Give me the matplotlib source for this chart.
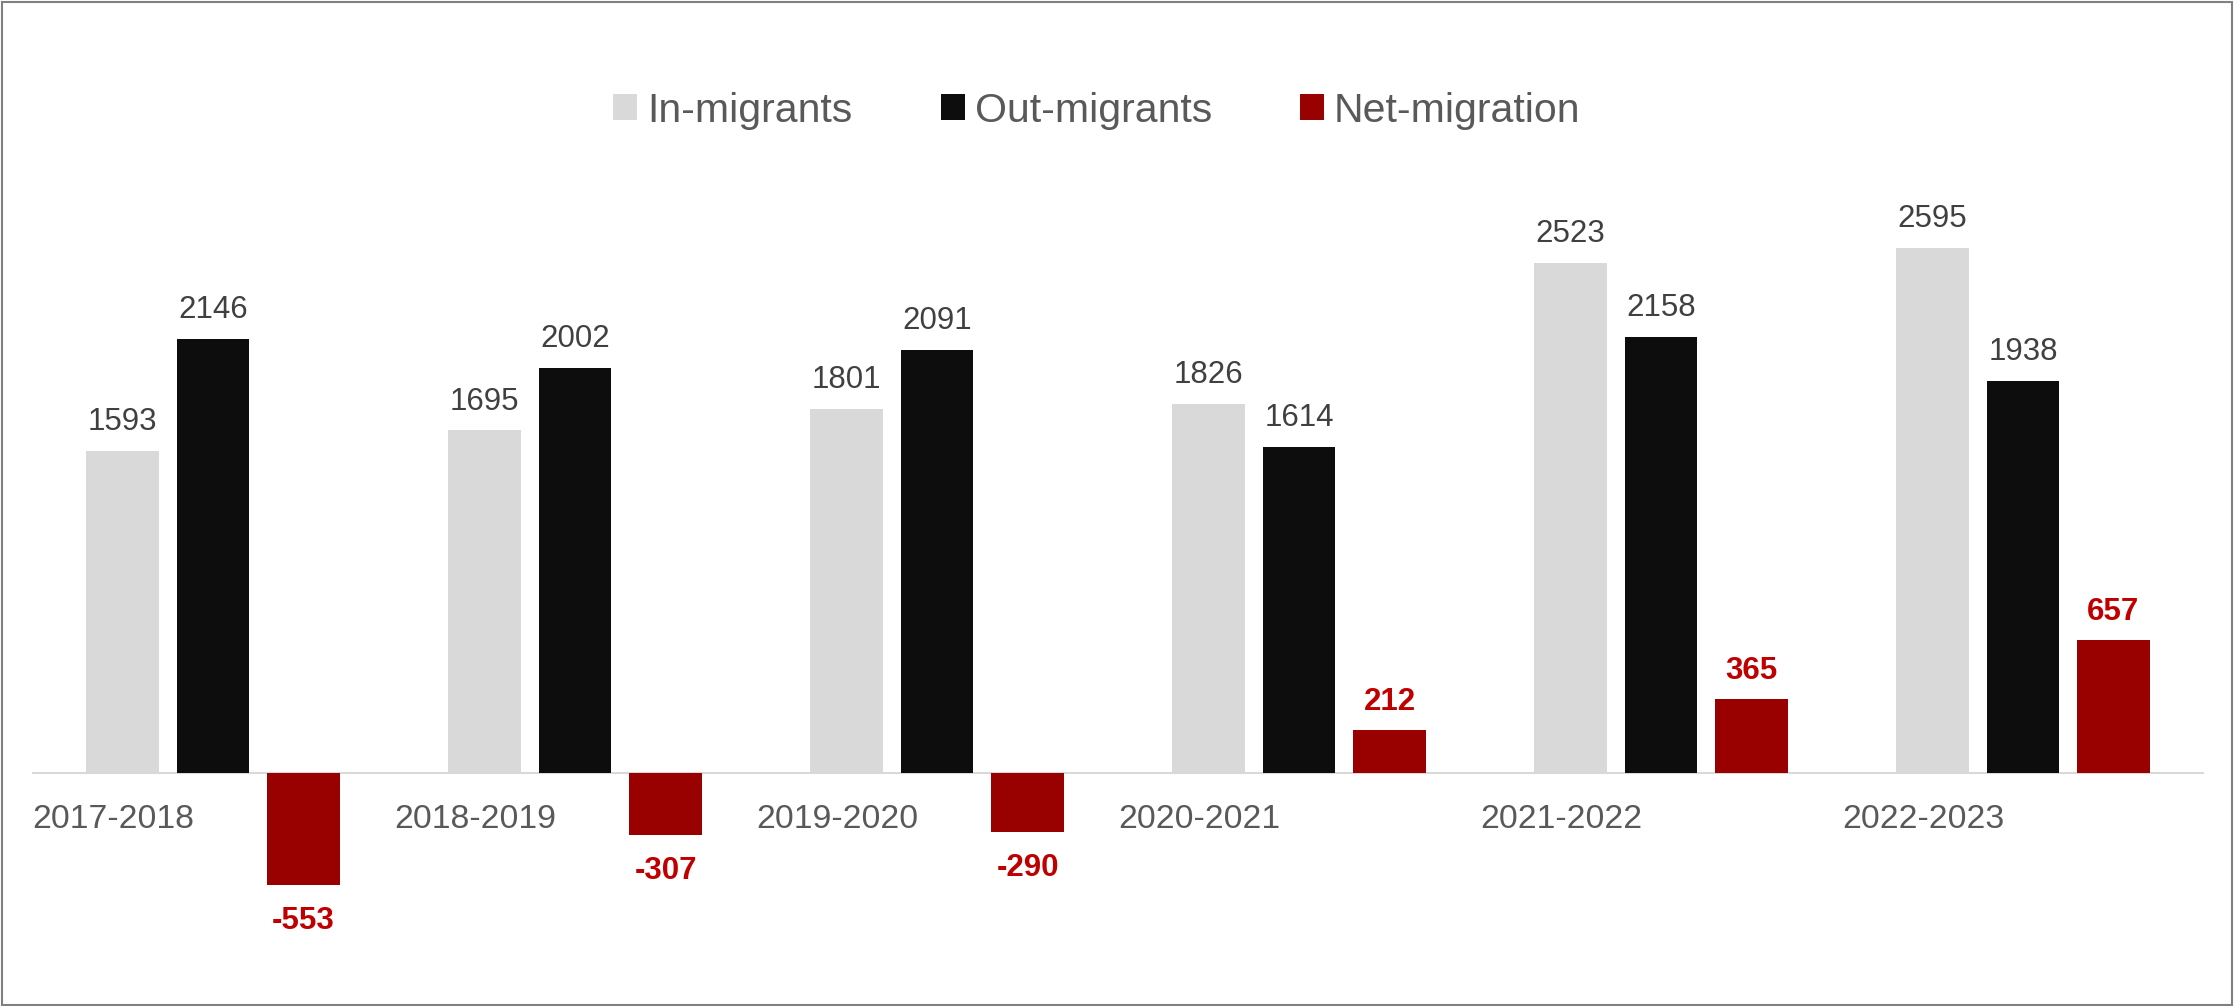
import matplotlib
matplotlib.use("Agg")
import matplotlib.pyplot as plt
import matplotlib.patches as mpatches
import numpy as np

plt.rcParams['font.family'] = ['Liberation Sans', 'DejaVu Sans']

periods = ["2017-2018", "2018-2019", "2019-2020", "2020-2021", "2021-2022", "2022-2023"]
in_migrants = [1593, 1695, 1801, 1826, 2523, 2595]
out_migrants = [2146, 2002, 2091, 1614, 2158, 1938]
net_migration = [-553, -307, -290, 212, 365, 657]
series_names = ["In-migrants", "Out-migrants", "Net-migration"]
series_colors = ["#D9D9D9", "#0D0D0D", "#990000"]

W, H = 2234, 1006
fig = plt.figure(figsize=(W / 100, H / 100), dpi=100)
ax = fig.add_axes([32 / W, 1 - 960 / H, 2172 / W, 790 / H])

x = np.arange(len(periods))
bw = 0.2
off = 0.25
series = [in_migrants, out_migrants, net_migration]
bars = []
for k, (vals, name, col) in enumerate(zip(series, series_names, series_colors)):
    b = ax.bar(x + (k - 1) * off, vals, width=bw, color=col, label=name, zorder=2)
    bars.append(b)

ax.axhline(0, color="#D9D9D9", lw=1.5, zorder=1)
ax.set_xlim(-0.5, len(periods) - 0.5)
ax.set_ylim(-922.4, 2980.7)
ax.axis("off")

# data labels
for k, vals in enumerate(series):
    for i, v in enumerate(vals):
        xp = x[i] + (k - 1) * off
        if k < 2:
            ax.annotate(str(v), (xp, v), xytext=(0, 14.9), textcoords="offset points",
                        ha="center", va="baseline", fontsize=22.5, color="#404040")
        else:
            dy = 14.9 if v >= 0 else -31.5
            ax.annotate(str(v), (xp, v), xytext=(0, dy), textcoords="offset points",
                        ha="center", va="baseline", fontsize=22.5, color="#C00000",
                        fontweight="bold")

# category labels
for i, p in enumerate(periods):
    ax.annotate(p, (i - 0.5, 0), xytext=(0.5, -39.4), textcoords="offset points",
                ha="left", va="baseline", fontsize=24.3, color="#595959")

leg = fig.legend(handles=bars, labels=series_names, loc="center",
                 bbox_to_anchor=(1097 / W, 1 - 110.7 / H), ncol=3, frameon=False,
                 fontsize=29.5, handlelength=0.58, handleheight=0.6,
                 handletextpad=0.25, columnspacing=2.15)
for t in leg.get_texts():
    t.set_color("#595959")

fig.patches.append(mpatches.Rectangle((0.001, 0.001), 0.998, 0.997, transform=fig.transFigure,
                                      fill=False, ec="#808080", lw=1.5))

fig.savefig("out.png", dpi=100)
